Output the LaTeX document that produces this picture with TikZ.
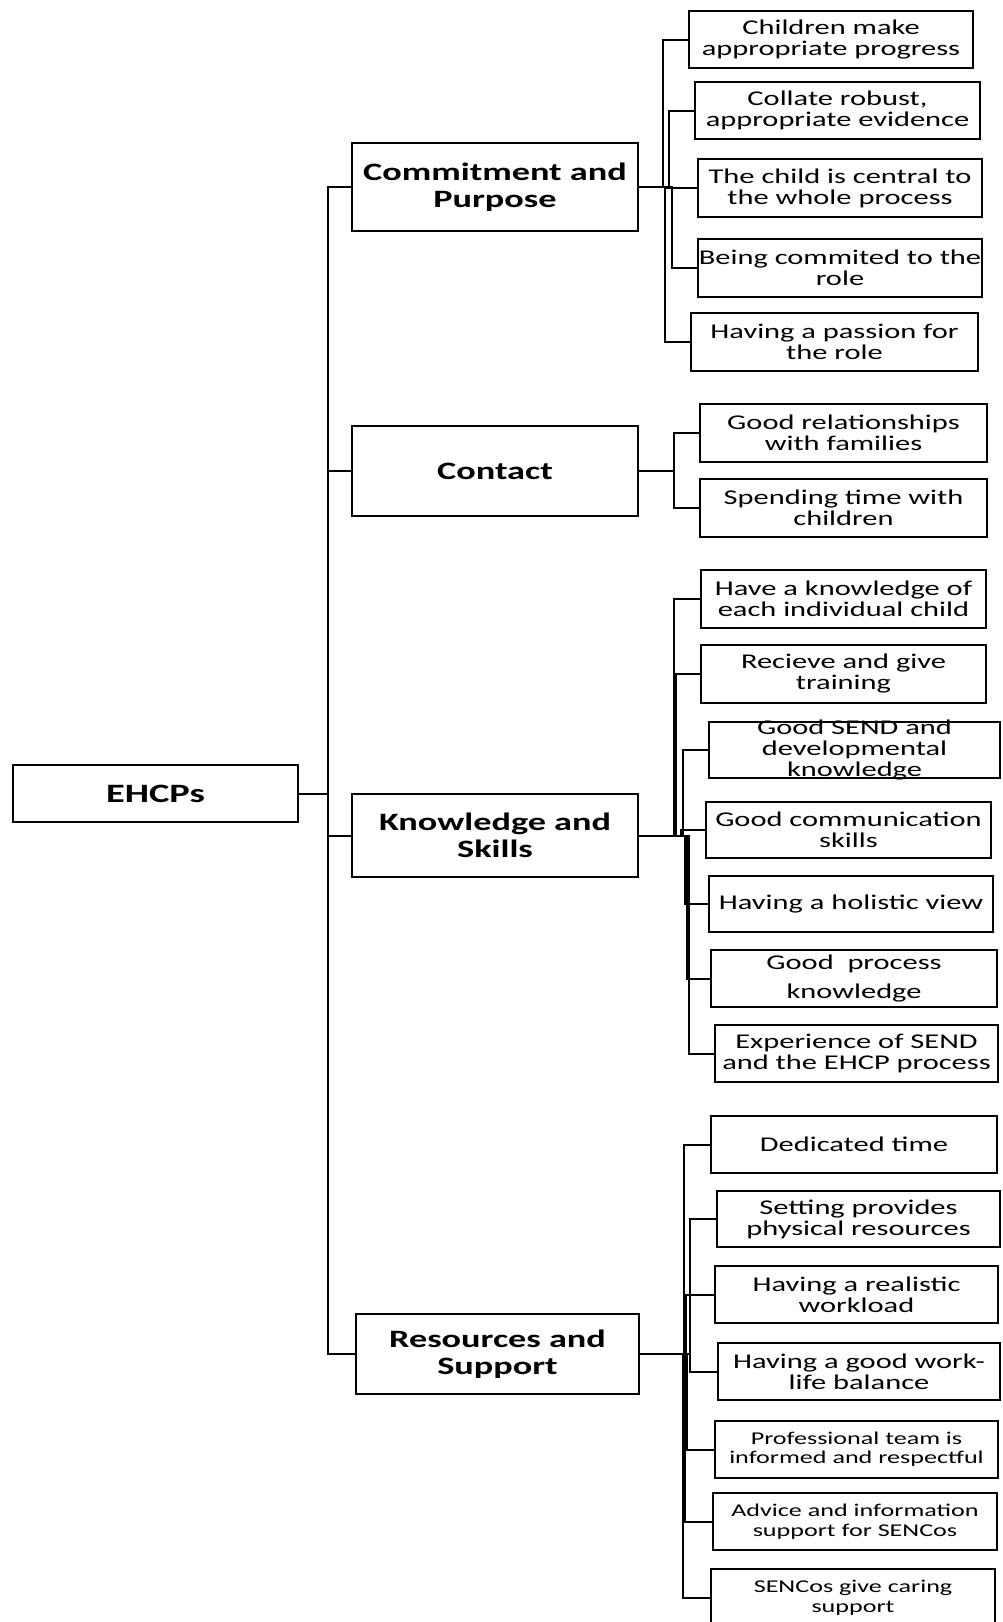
\documentclass[tikz,border=0pt]{standalone}
\usepackage{fontspec}
\setmainfont{Carlito}[FakeStretch=1.45]

\begin{document}
\begin{tikzpicture}[x=1pt,y=-1pt]
\useasboundingbox (0,0) rectangle (1002,1622);

% main boxes
\begin{scope}[every node/.style={draw,line width=2.2pt,inner sep=0pt,align=center,
              font=\bfseries\fontsize{25}{27}\selectfont}]
    \node[minimum width=285,minimum height=57,font=\bfseries\fontsize{26.5}{27}\selectfont]
          (0) at (155.5,793.5) {EHCPs};
    \node[minimum width=286,minimum height=88] (1) at (495,187)    {Commitment and\\Purpose};
    \node[minimum width=286,minimum height=90] (2) at (495,471)    {Contact};
    \node[minimum width=286,minimum height=83] (3) at (495,835.5)  {Knowledge and\\Skills};
    \node[minimum width=283,minimum height=80] (4) at (497.5,1354) {Resources and\\Support};
\end{scope}

% sub-themes
\begin{scope}[every node/.style={draw,line width=2.2pt,inner sep=0pt,align=center,
              font=\fontsize{21}{21}\selectfont}]
    \node[minimum width=284,minimum height=57] (1-1) at (831,39.5)   {Children make\\appropriate progress};
    \node[minimum width=285,minimum height=57] (1-2) at (837.5,110.5) {Collate robust,\\appropriate evidence};
    \node[minimum width=284,minimum height=58] (1-3) at (840,188)    {The child is central to\\the whole process};
    \node[minimum width=284,minimum height=58] (1-4) at (840,268)    {Being commited to the\\role};
    \node[minimum width=287,minimum height=58] (1-5) at (834.5,342)  {Having a passion for\\the role};

    \node[minimum width=287,minimum height=58] (2-1) at (843.5,433)  {Good relationships\\with families};
    \node[minimum width=287,minimum height=58] (2-2) at (843.5,508)  {Spending time with\\children};

    \node[minimum width=285,minimum height=58] (3-1) at (843.5,599)  {Have a knowledge of\\each individual child};
    \node[minimum width=285,minimum height=58] (3-2) at (843.5,674)  {Recieve and give\\training};
    \node[minimum width=291,minimum height=56] (3-3) at (854.5,750)  {};
    \node[draw=none] (3-3t) at (3-3) {Good SEND and\\developmental\\knowledge};
    \node[minimum width=285,minimum height=56] (3-4) at (848.5,830)  {Good communication\\skills};
    \node[minimum width=284,minimum height=56] (3-5) at (851,904)    {Having a holistic view};
    \node[minimum width=286,minimum height=57] (3-6) at (854,978.5)  {Good\ \ process\\[8pt]knowledge};
    \node[minimum width=283,minimum height=57] (3-7) at (856.5,1053.5) {Experience of SEND\\and the EHCP process};

    \node[minimum width=286,minimum height=57] (4-1) at (854,1144.5) {Dedicated time};
    \node[minimum width=283,minimum height=56] (4-2) at (858.5,1219) {Setting provides\\physical resources};
    \node[minimum width=283,minimum height=57] (4-3) at (856.5,1294.5) {Having a realistic\\workload};
    \node[minimum width=282,minimum height=57] (4-4) at (859,1371.5) {Having a good work-\\life balance};
    \node[minimum width=283,minimum height=57,font=\fontsize{18}{19}\selectfont]
          (4-5) at (856.5,1449.5) {Professional team is\\informed and respectful};
    \node[minimum width=284,minimum height=57,font=\fontsize{18}{20}\selectfont]
          (4-6) at (855,1521.5) {Advice and information\\support for SENCos};
    \node[minimum width=284,minimum height=58,font=\fontsize{18}{20}\selectfont]
          (4-7) at (853,1598) {SENCos give caring\\support};
\end{scope}

\begin{scope}[elbow/.style={to path={-- ++(#1,0) |- (\tikztotarget)}},
              every edge/.style={draw,line width=2pt}]
    \path (0.east) edge[elbow=29] (1.west)
                   edge[elbow=29] (2.west)
                   edge[elbow=29] (3.west)
                   edge[elbow=29] (4.west);

    \path (1.east) edge[elbow=24] (1-1.west)
                   edge[elbow=30] (1-2.west)
                   edge[elbow=27] (1-3.west)
                   edge[elbow=33] (1-4.west)
                   edge[elbow=26] (1-5.west);

    \path (2.east) edge[elbow=35] (2-1.west)
                   edge[elbow=35] (2-2.west);

    \path (3.east) edge[elbow=35] (3-1.west)
                   edge[elbow=37] (3-2.west)
                   edge[elbow=44] (3-3.west)
                   edge[elbow=42] (3-4.west)
                   edge[elbow=46] (3-5.west)
                   edge[elbow=48] (3-6.west)
                   edge[elbow=50] (3-7.west);

    \path (4.east) edge[elbow=44] (4-1.west)
                   edge[elbow=50] (4-2.west)
                   edge[elbow=46] (4-3.west)
                   edge[elbow=50] (4-4.west)
                   edge[elbow=47] (4-5.west)
                   edge[elbow=45] (4-6.west)
                   edge[elbow=43] (4-7.west);
\end{scope}
\end{tikzpicture}
\end{document}
